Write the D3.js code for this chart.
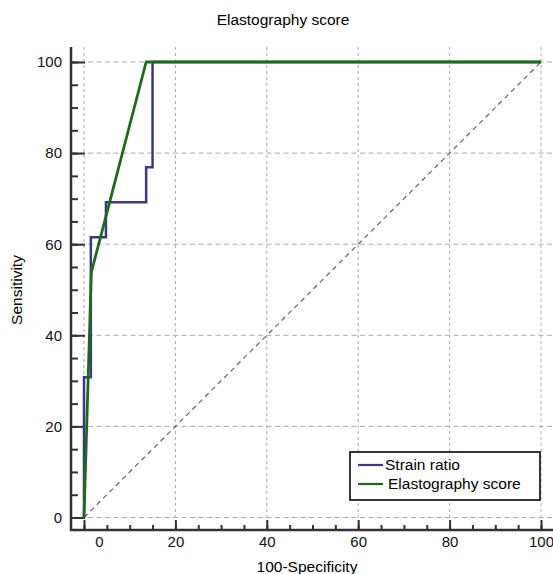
<!DOCTYPE html>
<html>
<head>
<meta charset="utf-8">
<script src="https://cdn.jsdelivr.net/npm/d3@7"></script>
<style>
  body { margin: 0; background: #fff; }
  svg { font-family: "Liberation Sans", Arial, sans-serif; }
</style>
</head>
<body>
<div id="chart"></div>
<script>
// ROC curves, values (percent)
const strainFpr  = [0, 0, 1.5, 1.5, 4.8, 4.8, 13.6, 13.6, 15, 15, 100];
const strainSens = [0, 30.8, 30.8, 61.5, 61.5, 69.2, 69.2, 76.9, 76.9, 100, 100];
const scoreFpr  = [0, 1.6, 13.6, 100];
const scoreSens = [0, 53.8, 100, 100];
const majorTicks = [0, 20, 40, 60, 80, 100];
const seriesNames = ["Strain ratio", "Elastography score"];
const seriesColors = ["#3a3a80", "#1b6b1b"];

const width = 553, height = 574;

const x = d3.scaleLinear().domain([0, 100]).range([84, 541]);
const y = d3.scaleLinear().domain([0, 100]).range([517.5, 62]);

// axis extents in data units
const xMin = x.invert(71), xMax = x.invert(553);
const yMin = y.invert(530), yMax = y.invert(47);
const minorTicks = d3.range(0, 101, 5);

const svg = d3.select("#chart")
    .append("svg")
    .attr("width", width)
    .attr("height", height);

// grid
svg.append("g")
    .selectAll("line")
    .data(majorTicks)
    .enter()
    .append("line")
    .attr("x1", x(xMin)).attr("x2", x(xMax))
    .attr("y1", d => y(d)).attr("y2", d => y(d))
    .attr("stroke", "#aaa")
    .attr("stroke-width", 1)
    .attr("stroke-dasharray", "5,3.5");

svg.append("g")
    .selectAll("line")
    .data(majorTicks)
    .enter()
    .append("line")
    .attr("x1", d => x(d)).attr("x2", d => x(d))
    .attr("y1", y(yMin)).attr("y2", y(yMax))
    .attr("stroke", "#aaa")
    .attr("stroke-width", 1)
    .attr("stroke-dasharray", "3,3");

// diagonal
svg.append("line")
    .attr("x1", x(0)).attr("y1", y(0))
    .attr("x2", x(100)).attr("y2", y(100))
    .attr("stroke", "#666")
    .attr("stroke-width", 1.2)
    .attr("stroke-dasharray", "5,4");

// axes
const yMajor = svg.append("g")
    .attr("transform", `translate(${x(xMin)},0)`)
    .call(d3.axisLeft(y).tickValues(majorTicks).tickSize(-14).tickSizeOuter(0).tickPadding(9));
const yMinor = svg.append("g")
    .attr("transform", `translate(${x(xMin)},0)`)
    .call(d3.axisLeft(y).tickValues(minorTicks).tickSize(-7).tickSizeOuter(0).tickFormat(""));

const xMajor = svg.append("g")
    .attr("transform", `translate(0,${y(yMin)})`)
    .call(d3.axisBottom(x).tickValues(majorTicks).tickSize(-10).tickSizeOuter(0).tickPadding(6));
const xMinor = svg.append("g")
    .attr("transform", `translate(0,${y(yMin)})`)
    .call(d3.axisBottom(x).tickValues(minorTicks).tickSize(-5).tickSizeOuter(0).tickFormat(""));

[yMajor, yMinor, xMajor, xMinor].forEach(g => {
    g.select(".domain").remove();
    g.selectAll(".tick line").attr("stroke", "#333").attr("stroke-width", 2);
    g.selectAll(".tick text").style("font-size", "15px").attr("fill", "#111");
});
xMajor.selectAll(".tick text").filter(d => d === 0).attr("dx", 15);

svg.append("line")
    .attr("x1", x(xMin)).attr("x2", x(xMin))
    .attr("y1", y(yMax)).attr("y2", y(yMin) + 1)
    .attr("stroke", "#333").attr("stroke-width", 2.5);
svg.append("line")
    .attr("x1", x(xMin) - 1).attr("x2", x(xMax))
    .attr("y1", y(yMin)).attr("y2", y(yMin))
    .attr("stroke", "#333").attr("stroke-width", 2.5);

// curves
const line = d3.line().x(d => x(d[0])).y(d => y(d[1]));

svg.append("path")
    .datum(d3.zip(strainFpr, strainSens))
    .attr("d", line)
    .attr("fill", "none")
    .attr("stroke", seriesColors[0])
    .attr("stroke-width", 2.5);

svg.append("path")
    .datum(d3.zip(scoreFpr, scoreSens))
    .attr("d", line)
    .attr("fill", "none")
    .attr("stroke", seriesColors[1])
    .attr("stroke-width", 2.8)
    .attr("stroke-linejoin", "round");

// titles
svg.append("text")
    .attr("x", 283).attr("y", 25)
    .attr("text-anchor", "middle")
    .style("font-size", "15.5px")
    .text("Elastography score");

svg.append("text")
    .attr("x", 307).attr("y", 572)
    .attr("text-anchor", "middle")
    .style("font-size", "15.5px")
    .text("100-Specificity");

svg.append("text")
    .attr("transform", "translate(22,290) rotate(-90)")
    .attr("text-anchor", "middle")
    .style("font-size", "15.5px")
    .text("Sensitivity");

// legend
const legend = svg.append("g").attr("transform", "translate(350,452)");
legend.append("rect")
    .attr("width", 190).attr("height", 48)
    .attr("fill", "#fff")
    .attr("stroke", "#222")
    .attr("stroke-width", 1.8);

const items = legend.selectAll("g.item")
    .data(seriesNames)
    .enter()
    .append("g")
    .attr("class", "item")
    .attr("transform", (d, i) => `translate(8, ${13 + i * 19})`);

items.append("line")
    .attr("x1", 0).attr("x2", 25)
    .attr("stroke", (d, i) => seriesColors[i])
    .attr("stroke-width", 2.2);

items.append("text")
    .attr("x", (d, i) => 27 + i * 3)
    .attr("dy", "0.35em")
    .style("font-size", "15.5px")
    .text(d => d);
</script>
</body>
</html>
